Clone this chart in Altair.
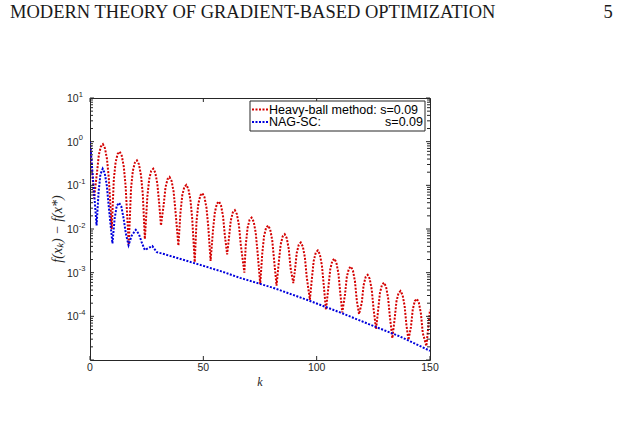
import altair as alt
import pandas as pd

# ---------------- data ----------------
# Heavy-ball method: iteration k and log10(f(x_k) - f(x*))
hb_k = [0, 1.8,
        3.1, 3.9, 4.8, 5.7, 6.6, 7.5, 8.3, 9.6,
        10.5, 11.3, 12.2, 13.1, 14.0, 14.9, 15.7, 17.1,
        18.1, 18.9, 19.8, 20.7, 21.6, 22.5, 23.3, 24.2,
        25.3, 26.1, 27.0, 27.9, 28.8, 29.7, 30.5, 31.3,
        32.5, 33.3, 34.2, 35.1, 36.0, 36.9, 37.7, 39.0,
        39.9, 40.7, 41.6, 42.5, 43.4, 44.3, 45.1, 46.2,
        47.0, 47.8, 48.7, 49.6, 50.5, 51.4, 52.2, 53.2,
        54.3, 55.1, 56.0, 56.9, 57.8, 58.7, 59.5, 60.5,
        61.3, 62.1, 63.0, 63.9, 64.8, 65.7, 66.5, 68.1,
        68.7, 69.5, 70.4, 71.3, 72.2, 73.1, 73.9, 75.1,
        76.0, 76.8, 77.7, 78.6, 79.5, 80.4, 81.2, 82.3,
        83.3, 84.1, 85.0, 85.9, 86.8, 87.7, 88.5, 89.7,
        90.4, 91.2, 92.1, 93.0, 93.9, 94.8, 95.6, 97.0,
        97.9, 98.7, 99.6, 100.5, 101.4, 102.3, 103.1, 104.1,
        105.2, 106.0, 106.9, 107.8, 108.7, 109.6, 110.4, 111.3,
        112.5, 113.3, 114.2, 115.1, 116.0, 116.9, 117.7, 118.7,
        119.9, 120.7, 121.6, 122.5, 123.4, 124.3, 125.1, 126.2,
        127.1, 127.9, 128.8, 129.7, 130.6, 131.5, 132.3, 133.4,
        134.4, 135.2, 136.1, 137.0, 137.9, 138.8, 139.6, 140.5,
        141.6, 142.4, 143.3, 144.2, 145.1, 146.0, 146.8, 148.4,
        150.0]
hb_log = [0.0, -1.30,
          -0.70, -0.30, -0.11, -0.06, -0.15, -0.40, -0.84, -2.00,
          -0.87, -0.47, -0.28, -0.23, -0.32, -0.57, -1.01, -2.36,
          -1.07, -0.67, -0.48, -0.43, -0.52, -0.77, -1.21, -2.23,
          -1.26, -0.86, -0.67, -0.62, -0.71, -0.96, -1.40, -1.92,
          -1.45, -1.05, -0.86, -0.81, -0.90, -1.15, -1.59, -2.38,
          -1.63, -1.23, -1.04, -0.99, -1.08, -1.33, -1.77, -2.76,
          -1.82, -1.42, -1.23, -1.18, -1.27, -1.52, -1.96, -2.73,
          -2.01, -1.61, -1.42, -1.37, -1.46, -1.71, -2.15, -2.58,
          -2.21, -1.81, -1.62, -1.57, -1.66, -1.91, -2.35, -3.00,
          -2.38, -1.98, -1.79, -1.74, -1.83, -2.08, -2.52, -3.26,
          -2.56, -2.16, -1.97, -1.92, -2.01, -2.26, -2.70, -3.30,
          -2.76, -2.36, -2.17, -2.12, -2.21, -2.46, -2.90, -3.24,
          -2.95, -2.55, -2.36, -2.31, -2.40, -2.65, -3.09, -3.62,
          -3.13, -2.73, -2.54, -2.49, -2.58, -2.83, -3.27, -3.85,
          -3.32, -2.92, -2.73, -2.68, -2.77, -3.02, -3.46, -3.91,
          -3.50, -3.10, -2.91, -2.86, -2.95, -3.20, -3.64, -3.95,
          -3.69, -3.29, -3.10, -3.05, -3.14, -3.39, -3.83, -4.29,
          -3.87, -3.47, -3.28, -3.23, -3.32, -3.57, -4.01, -4.50,
          -4.06, -3.66, -3.47, -3.42, -3.51, -3.76, -4.20, -4.54,
          -4.24, -3.84, -3.65, -3.60, -3.69, -3.94, -4.38, -4.68,
          -3.85]

# NAG-SC
nag_k = [0, 1.0, 2.0, 2.9, 3.8, 4.6, 5.6, 6.5, 7.4, 8.4, 9.9, 10.9, 11.8,
         12.8, 13.8, 14.8, 15.8, 17.0, 18.4, 20.2, 21.6, 22.9, 24.2, 27.5,
         29.5, 33.0, 44.0, 58.0, 66.2, 81.0, 95.6, 110.3, 125.0, 136.7, 150.0]
nag_log = [0.0, -0.65, -1.30, -1.92, -1.15, -0.75, -0.62, -0.72, -1.00, -1.55,
           -2.33, -1.75, -1.47, -1.40, -1.48, -1.75, -2.10, -2.37, -2.15, -2.02,
           -2.12, -2.32, -2.48, -2.39, -2.53, -2.58, -2.75, -2.97, -3.12, -3.35,
           -3.62, -3.91, -4.22, -4.46, -4.79]

series_names = ["Heavy-ball method:", "NAG-SC:"]
series_params = ["s=0.09", "s=0.09"]
series_colors = ["#d40000", "#0000dd"]

x_tick_vals = [0, 50, 100, 150]
y_label_exps = [1, 0, -1, -2, -3, -4]
y_major = [10.0 ** e for e in range(-5, 2)]
y_minor = [m * 10.0 ** e for e in range(-5, 1) for m in range(2, 10)]

header_text = "MODERN THEORY OF GRADIENT-BASED OPTIMIZATION"
page_number = "5"
x_title = "k"
y_title = "f(x\u2096) \u2212 f(x*)"

# ---------------- layout / style ----------------
W, H = 340, 262
AX = "#262626"
SANS = "Liberation Sans"
SERIF = "Liberation Serif"

xs = alt.Scale(domain=[0, 150], nice=False, zero=False)
ys = alt.Scale(type="log", domain=[1e-5, 10], nice=False)


def series(ks, lv, color):
    df = pd.DataFrame({"k": ks, "lv": lv})
    return alt.Chart(df).transform_calculate(v="pow(10, datum.lv)").mark_line(
        color=color, strokeWidth=2, strokeDash=[2, 1.5], strokeCap="butt", clip=True
    ).encode(
        x=alt.X("k:Q", scale=xs, axis=None),
        y=alt.Y("v:Q", scale=ys, axis=None),
    )


def one_text(txt, x, y, **kw):
    return alt.Chart(pd.DataFrame({"t": [txt]})).mark_text(**kw).encode(
        text="t:N", x=alt.value(x), y=alt.value(y)
    )


hb_line = series(hb_k, hb_log, series_colors[0])
nag_line = series(nag_k, nag_log, series_colors[1])


# ticks (inward)
def yticks(vals, length):
    df = pd.DataFrame({"v": vals})
    base = alt.Chart(df).mark_rule(color=AX, strokeWidth=1)
    left = base.encode(y=alt.Y("v:Q", scale=ys, axis=None), x=alt.value(0), x2=alt.value(length))
    right = base.encode(y=alt.Y("v:Q", scale=ys, axis=None), x=alt.value(W), x2=alt.value(W - length))
    return [left, right]


xt_df = pd.DataFrame({"v": x_tick_vals})
xt_base = alt.Chart(xt_df).mark_rule(color=AX, strokeWidth=1)
xt_bottom = xt_base.encode(x=alt.X("v:Q", scale=xs, axis=None), y=alt.value(H), y2=alt.value(H - 4))
xt_top = xt_base.encode(x=alt.X("v:Q", scale=xs, axis=None), y=alt.value(0), y2=alt.value(4))
xt_labels = alt.Chart(xt_df).mark_text(
    font=SANS, fontSize=10.5, color=AX, baseline="middle", align="center"
).encode(x=alt.X("v:Q", scale=xs, axis=None), y=alt.value(H + 8), text="v:Q")

# y labels 10^e
yl_df = pd.DataFrame({"e": y_label_exps})
yl_base = alt.Chart(yl_df).transform_calculate(
    v="pow(10, datum.e)", base="'10'", ex="toString(datum.e)"
)
yl_ten = yl_base.mark_text(
    font=SANS, fontSize=10.5, color=AX, baseline="middle", align="left", dy=1
).encode(y=alt.Y("v:Q", scale=ys, axis=None), x=alt.value(-23), text="base:N")
yl_exp = yl_base.mark_text(
    font=SANS, fontSize=7.5, color=AX, baseline="middle", align="left", dy=-3.5
).encode(y=alt.Y("v:Q", scale=ys, axis=None), x=alt.value(-11.2), text="ex:N")

# axis titles
xtitle = one_text(x_title, W / 2, H + 22, font=SERIF, fontStyle="italic", fontSize=12,
                  color=AX, baseline="middle", align="center")
ytitle = one_text(y_title, -32, H / 2, font=SERIF, fontStyle="italic", fontSize=14,
                  color=AX, baseline="middle", align="center", angle=270)

# legend box
leg_box = alt.Chart(pd.DataFrame({"a": [0]})).mark_rect(
    fill="white", stroke=AX, strokeWidth=1
).encode(x=alt.value(160), x2=alt.value(335), y=alt.value(3), y2=alt.value(33))
leg_layers = [leg_box]
for i, (nm, prm, col) in enumerate(zip(series_names, series_params, series_colors)):
    yc = 11.5 + 12.5 * i
    leg_layers.append(
        alt.Chart(pd.DataFrame({"a": [0]})).mark_rule(
            color=col, strokeWidth=2, strokeDash=[2, 1.5], strokeCap="butt"
        ).encode(x=alt.value(162), x2=alt.value(178), y=alt.value(yc))
    )
    if i == 0:
        leg_layers.append(one_text(nm + " " + prm, 179, yc, font=SANS, fontSize=12.5,
                                   color="black", baseline="middle", align="left"))
    else:
        leg_layers.append(one_text(nm, 179, yc, font=SANS, fontSize=12.5, color="black",
                                   baseline="middle", align="left"))
        leg_layers.append(one_text(prm, 333, yc, font=SANS, fontSize=12.5, color="black",
                                   baseline="middle", align="right"))

# page header
hdr = one_text(header_text, -80, -86, font=SERIF, fontSize=18.5, color="#1a1a1a",
               baseline="middle", align="left")
pg = one_text(page_number, 518, -86, font=SERIF, fontSize=18.5, color="#1a1a1a",
              baseline="middle", align="center")

layers = [hb_line, nag_line, xt_bottom, xt_top, xt_labels, yl_ten, yl_exp, xtitle, ytitle, hdr, pg]
layers += yticks(y_major, 4) + yticks(y_minor, 3)
layers += leg_layers

chart = alt.layer(*layers).properties(
    width=W, height=H,
    padding={"left": 90, "top": 98, "right": 617 - 90 - W, "bottom": 423 - 98 - H},
    autosize=alt.AutoSizeParams(type="none"),
    background="white",
).configure_view(stroke=AX, strokeWidth=1)

chart.save("out.html", embed_options={"renderer": "svg", "actions": False})
